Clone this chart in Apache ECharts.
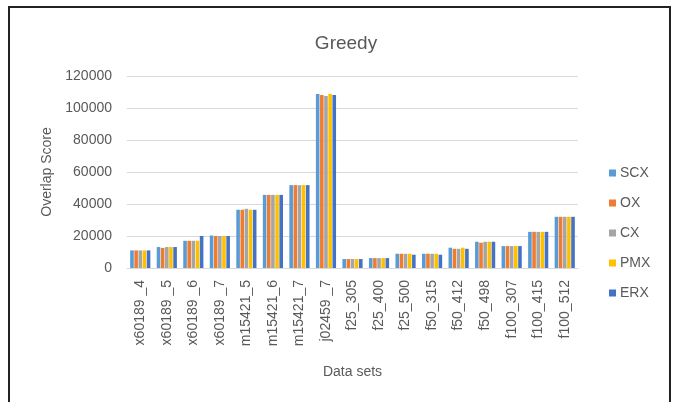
<!DOCTYPE html>
<html>
<head>
<meta charset="utf-8">
<script src="https://cdn.jsdelivr.net/npm/echarts@6/dist/echarts.min.js"></script>
<style>
  html, body { margin: 0; padding: 0; background: #fff; }
  .frame {
    position: absolute; left: 8px; top: 6px;
    width: 659px; height: 420px;
    border: 2px solid #222;
  }
  #main { position: absolute; left: 0; top: 0; width: 673px; height: 402px; }
</style>
</head>
<body>
<div class="frame"></div>
<div id="main"></div>
<script>
  // data sets and overlap scores
  var categories = ['x60189 _4', 'x60189 _5', 'x60189 _6', 'x60189 _7', 'm15421_5', 'm15421_6', 'm15421_7', 'j02459 _7',
    'f25_305', 'f25_400', 'f25_500', 'f50_315', 'f50_412', 'f50_498', 'f100_307', 'f100_415', 'f100_512'];
  var scx = [11000, 13100, 17000, 20300, 36400, 45700, 51800, 108800, 5600, 6200, 8900, 8900, 12700, 16400, 13700, 22600, 32000];
  var ox  = [11000, 12500, 17000, 20000, 36400, 45700, 51800, 108100, 5600, 6200, 8900, 8900, 12000, 15800, 13700, 22600, 32000];
  var cx  = [11000, 13100, 17000, 20000, 37000, 45700, 51800, 107500, 5600, 6200, 8900, 8900, 12000, 16400, 13700, 22600, 32000];
  var pmx = [11000, 13100, 17000, 20000, 36400, 45700, 51800, 108800, 5600, 6200, 8900, 8900, 12700, 16400, 13700, 22600, 32000];
  var erx = [11000, 13100, 20000, 20000, 36400, 45700, 51800, 108100, 5600, 6200, 8300, 8300, 12000, 16400, 13700, 22600, 32000];
  var yTicks = [0, 20000, 40000, 60000, 80000, 100000, 120000];

  var seriesNames = ['SCX', 'OX', 'CX', 'PMX', 'ERX'];
  var seriesData = [scx, ox, cx, pmx, erx];
  var colors = ['#5B9BD5', '#ED7D31', '#A5A5A5', '#FFC000', '#4472C4'];
  var font = 'Liberation Sans, Arial, sans-serif';

  var myChart = echarts.init(document.getElementById('main'));
  var option = {
    animation: false,
    color: colors,
    textStyle: { fontFamily: font },
    title: {
      text: 'Greedy',
      left: 341, top: 29, textAlign: 'center',
      textStyle: { fontSize: 19, fontWeight: 'normal', color: '#595959', fontFamily: font }
    },
    legend: {
      orient: 'vertical',
      left: 604, top: 161,
      itemWidth: 7, itemHeight: 7, itemGap: 16,
      icon: 'rect',
      data: seriesNames,
      textStyle: { fontSize: 14, color: '#595959', padding: [0, 0, 0, -1] }
    },
    grid: { left: 127, right: 95, top: 76, bottom: 134 },
    xAxis: {
      type: 'category',
      data: categories,
      name: 'Data sets',
      nameLocation: 'middle',
      nameGap: 97,
      nameTextStyle: { fontSize: 14, color: '#595959' },
      axisTick: { show: false },
      axisLine: { lineStyle: { color: '#d9d9d9' } },
      axisLabel: { rotate: 90, interval: 0, margin: 12, fontSize: 14, color: '#595959' }
    },
    yAxis: {
      type: 'value',
      min: yTicks[0], max: yTicks[yTicks.length - 1], interval: 20000,
      name: 'Overlap Score',
      nameLocation: 'middle',
      nameGap: 69,
      nameTextStyle: { fontSize: 14, color: '#595959' },
      axisLine: { show: false },
      axisTick: { show: false },
      axisLabel: {
        fontSize: 14, color: '#595959', margin: 15,
        formatter: function (v) { return String(v); }
      },
      splitLine: { lineStyle: { color: '#d9d9d9', width: 1 } }
    },
    series: seriesNames.map(function (n, i) {
      return {
        name: n,
        type: 'bar',
        data: seriesData[i],
        barGap: '15%',
        barCategoryGap: '24%'
      };
    })
  };
  myChart.setOption(option);
</script>
</body>
</html>
